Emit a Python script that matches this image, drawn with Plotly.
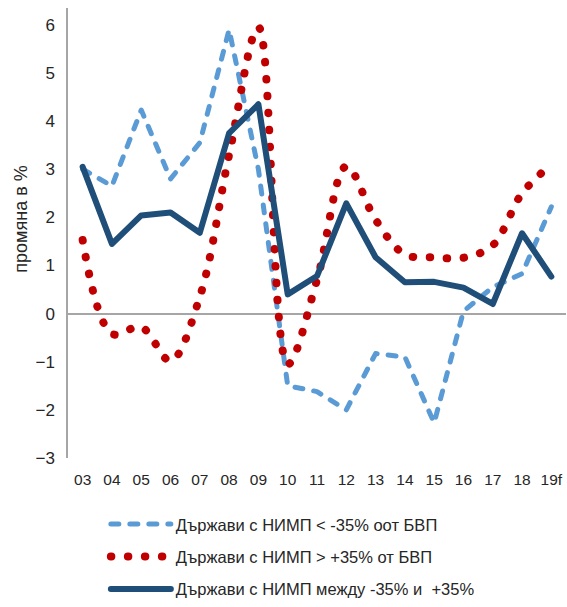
import plotly.graph_objects as go

categories = ["03", "04", "05", "06", "07", "08", "09", "10", "11", "12",
              "13", "14", "15", "16", "17", "18", "19f"]

below_neg35 = [3.0, 2.65, 4.23, 2.8, 3.55, 5.9, 3.0, -1.5, -1.62, -2.0,
               -0.83, -0.9, -2.27, 0.05, 0.55, 0.83, 2.22]
above_pos35 = [1.53, -0.42, -0.28, -0.98, 0.35, 3.3, 5.95, -1.05, 0.7, 3.06,
               1.95, 1.23, 1.17, 1.16, 1.42, 2.5, 3.1]
between = [3.05, 1.45, 2.04, 2.1, 1.68, 3.75, 4.35, 0.4, 0.78, 2.29,
           1.17, 0.65, 0.66, 0.54, 0.2, 1.67, 0.77]

names = ["Държави с НИМП < -35% оот БВП",
         "Държави с НИМП > +35% от БВП",
         "Държави с НИМП между -35% и  +35%"]

y_ticks = [-3, -2, -1, 0, 1, 2, 3, 4, 5, 6]

FONT = "Liberation Sans, Arial, sans-serif"
TXT = "#262626"

fig = go.Figure()
fig.add_trace(go.Scatter(
    x=categories, y=below_neg35, mode="lines", name=names[0],
    legendgroup="a",
    line=dict(color="#5B9BD5", width=5, dash="8px,11px")))
fig.add_trace(go.Scatter(
    x=categories, y=above_pos35, mode="lines", name=names[1],
    legendgroup="b",
    line=dict(color="#C00000", width=8, dash="0.5px,16.5px", shape="spline")))
fig.add_trace(go.Scatter(
    x=categories, y=between, mode="lines", name=names[2],
    legendgroup="c",
    line=dict(color="#1F4E79", width=6)))

fig.update_layout(
    width=567, height=607,
    margin=dict(l=68, r=1, t=8, b=149, autoexpand=False),
    paper_bgcolor="white", plot_bgcolor="white",
    font=dict(family=FONT, size=15, color=TXT),
    showlegend=True,
    legend=dict(orientation="v", x=0.076, xanchor="left",
                yref="container", y=0.165, yanchor="top",
                font=dict(family=FONT, size=16.5, color=TXT),
                itemwidth=60, tracegroupgap=8, bgcolor="rgba(0,0,0,0)"),
    xaxis=dict(type="category", showline=False, showgrid=False, zeroline=False,
               ticks="", automargin=False, ticklabelstandoff=10,
               tickfont=dict(family=FONT, size=15.5, color=TXT),
               range=[-0.5, 16.5]),
    yaxis=dict(range=[-3, 6.35], tickvals=y_ticks, showgrid=False,
               showline=True, linecolor="#A6A6A6", linewidth=1.5,
               zeroline=True, zerolinecolor="#A6A6A6", zerolinewidth=1.5,
               ticks="", automargin=False, ticklabelstandoff=8,
               tickfont=dict(family=FONT, size=17, color=TXT)),
    annotations=[dict(text="промяна в %", xref="paper", yref="paper",
                      x=-0.096, y=0.53, xanchor="center", yanchor="middle",
                      textangle=-90, showarrow=False,
                      font=dict(family=FONT, size=18, color=TXT))],
)

post = """
var s=document.createElement('style');
s.innerHTML='html,body{margin:0 !important;padding:0 !important;overflow:hidden;} .js-line, .legendlines path{stroke-linecap:round !important;stroke-linejoin:round !important;}';
document.head.appendChild(s);
"""
fig.write_html("out.html", post_script=post, config={"displayModeBar": False})
